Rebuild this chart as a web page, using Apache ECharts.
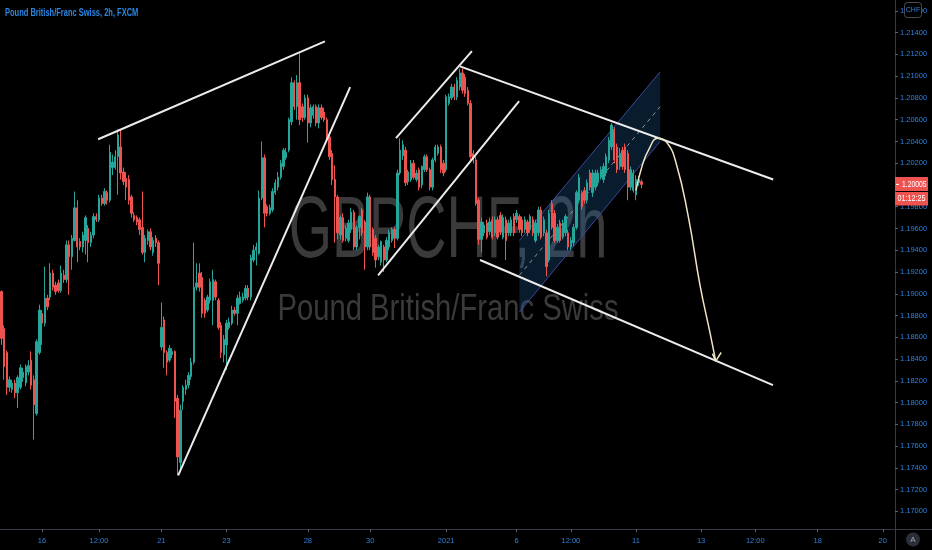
<!DOCTYPE html>
<html><head><meta charset="utf-8">
<script src="https://cdn.jsdelivr.net/npm/echarts@6/dist/echarts.min.js"></script>
<style>html,body{margin:0;padding:0;background:#000;}#c{width:932px;height:550px;}</style>
</head><body><div id="c"></div>
<script>
// ---------- data ----------
const xTickLabels = ['16','12:00','21','23','28','30','2021','6','12:00','11','13','12:00','18','20'];
const barsPerTickGap = [15,21,23,24,30,23,28,26,20,24,24,20,23,24,5];
const priceTicks = [1.170,1.172,1.174,1.176,1.178,1.180,1.182,1.184,1.186,1.188,1.190,1.192,1.194,1.196,1.198,1.200,1.202,1.204,1.206,1.208,1.210,1.212,1.214,1.216];

const opens = [
1.1902,1.1868,1.1846,1.1814,1.1812,1.1818,1.1809,1.1814,1.1823,1.1818,
1.1828,1.1839,1.1821,1.1790,1.1846,1.1882,1.1873,1.1896,1.1897,1.1919,
1.1908,1.1910,1.1903,1.1917,1.1913,1.1945,1.1934,1.1949,1.1979,1.1948,
1.1943,1.1949,1.1960,1.1947,1.1954,1.1971,1.1968,1.1988,1.1983,1.1993,
1.1986,1.2016,1.2016,1.2026,1.2035,1.2012,1.2006,1.2005,1.1989,1.1972,
1.1970,1.1968,1.1961,1.1938,1.1949,1.1957,1.1938,1.1951,1.1947,1.1851,
1.1876,1.1846,1.1839,1.1844,1.1847,1.1804,1.1745,1.1801,1.1812,1.1816,
1.1824,1.1837,1.1906,1.1919,1.1915,1.1894,1.1885,1.1894,1.1894,1.1911,
1.1894,1.1871,1.1844,1.1853,1.1869,1.1873,1.1885,1.1882,1.1891,1.1894,
1.1896,1.1905,1.1897,1.1931,1.1940,1.1937,1.1988,1.2025,1.1980,1.1974,
1.1977,1.1993,1.1998,1.2007,1.2017,1.2025,1.2032,1.2058,1.2094,1.2072,
1.2094,1.2072,1.2062,1.2080,1.2057,1.2064,1.2072,1.2057,1.2071,1.2067,
1.2060,1.2044,1.2029,1.2005,1.1989,1.1954,1.1970,1.1951,1.1949,1.1959,
1.1975,1.1943,1.1961,1.1977,1.1966,1.1943,1.1989,1.1959,1.1951,1.1934,
1.1929,1.1943,1.1931,1.1943,1.1949,1.1959,1.1951,1.2011,1.2027,1.2032,
1.2003,1.2005,1.2020,1.2005,1.2014,1.2000,1.2014,1.2026,1.2014,1.1998,
1.2023,1.2029,1.2035,1.2020,1.2014,1.2075,1.2080,1.2090,1.2081,1.2090,
1.2103,1.2099,1.2087,1.2075,1.2029,1.2023,1.1986,1.1950,1.1956,1.1965,
1.1957,1.1968,1.1956,1.1968,1.1972,1.1952,1.1968,1.1956,1.1956,1.1971,
1.1968,1.1971,1.1968,1.1959,1.1966,1.1959,1.1968,1.1949,1.1956,1.1977,
1.1956,1.1956,1.1931,1.1983,1.1974,1.1949,1.1965,1.1952,1.1956,1.1956,
1.1943,1.1947,1.1961,1.1986,1.1993,1.1995,1.1986,1.2011,1.1993,1.1998,
1.2002,1.2007,1.2005,1.2011,1.2023,1.2035,1.2051,1.2035,1.2017,1.2032,
1.2035,1.2029,1.1998,1.1995,1.1991,1.2002,1.2003];
const closes = [
1.1859,1.1833,1.1814,1.1821,1.1818,1.1809,1.1823,1.1832,1.1828,1.1833,
1.1834,1.1816,1.1798,1.1856,1.1885,1.1873,1.1896,1.1888,1.1919,1.1906,
1.1902,1.1903,1.1919,1.1913,1.1945,1.1934,1.1951,1.1979,1.1943,1.1943,
1.1954,1.1970,1.1947,1.1954,1.1971,1.1968,1.1988,1.1983,1.1994,1.1986,
1.2030,1.2021,1.2026,1.2046,1.2011,1.2003,1.1998,1.1986,1.1974,1.1968,
1.1966,1.1959,1.1938,1.1951,1.1957,1.1943,1.1949,1.1947,1.1928,1.1869,
1.1846,1.1837,1.1850,1.1847,1.1801,1.1750,1.1793,1.1814,1.1816,1.1825,
1.1837,1.1906,1.1910,1.1906,1.1882,1.1882,1.1897,1.1911,1.1913,1.1897,
1.1869,1.1846,1.1858,1.1873,1.1874,1.1885,1.1882,1.1896,1.1897,1.1897,
1.1905,1.1897,1.1933,1.1940,1.1943,1.1988,1.2025,1.1974,1.1974,1.1979,
1.1994,1.2002,1.2007,1.2020,1.2032,1.2030,1.2060,1.2094,1.2072,1.2094,
1.2060,1.2062,1.2080,1.2057,1.2071,1.2072,1.2057,1.2071,1.2062,1.2060,
1.2043,1.2026,1.2005,1.1989,1.1956,1.1970,1.1949,1.1960,1.1965,1.1975,
1.1943,1.1961,1.1971,1.1956,1.1943,1.1989,1.1943,1.1938,1.1931,1.1943,
1.1948,1.1931,1.1949,1.1956,1.1959,1.1951,1.2011,1.2032,1.2037,1.2002,
1.2012,1.2020,1.2007,1.2011,1.1998,1.2017,1.2026,1.2014,1.1998,1.2023,
1.2035,1.2035,1.2014,1.2011,1.2081,1.2081,1.2090,1.2081,1.2096,1.2103,
1.2087,1.2084,1.2075,1.2026,1.2023,1.1983,1.1950,1.1966,1.1963,1.1952,
1.1966,1.1952,1.1968,1.1952,1.1957,1.1970,1.1949,1.1965,1.1968,1.1956,
1.1974,1.1959,1.1956,1.1968,1.1956,1.1971,1.1956,1.1965,1.1977,1.1952,
1.1968,1.1925,1.1974,1.1961,1.1949,1.1961,1.1949,1.1965,1.1971,1.1943,
1.1949,1.1961,1.1993,1.2007,1.1980,1.1986,1.2002,1.1998,1.2011,1.2011,
1.2011,1.2014,1.2017,1.2026,1.2041,1.2055,1.2023,1.2014,1.2029,1.2017,
1.2014,1.1998,1.2014,1.2011,1.2005,1.2005,1.20005];
const lows = [
1.1853,1.1821,1.1807,1.1810,1.1809,1.1804,1.1795,1.1812,1.1819,1.1815,
1.1825,1.1812,1.1766,1.1788,1.1844,1.1853,1.1870,1.1885,1.1894,1.1903,
1.1899,1.1901,1.1901,1.1910,1.1910,1.1899,1.1922,1.1948,1.1929,1.1940,
1.1938,1.1936,1.1929,1.1943,1.1951,1.1966,1.1966,1.1981,1.1981,1.1982,
1.1984,1.2009,1.2014,1.1991,1.2005,1.2000,1.1986,1.1982,1.1970,1.1966,
1.1963,1.1954,1.1936,1.1929,1.1945,1.1940,1.1935,1.1943,1.1908,1.1848,
1.1832,1.1825,1.1837,1.1841,1.1786,1.1733,1.1736,1.1793,1.1807,1.1813,
1.1821,1.1835,1.1903,1.1902,1.1878,1.1878,1.1883,1.1891,1.1871,1.1894,
1.1867,1.1841,1.1837,1.1830,1.1867,1.1871,1.1880,1.1871,1.1890,1.1892,
1.1894,1.1894,1.1894,1.1929,1.1926,1.1936,1.1986,1.1961,1.1971,1.1972,
1.1975,1.1991,1.1995,1.2005,1.2014,1.2023,1.2030,1.2055,1.2069,1.2060,
1.2055,1.2058,1.2060,1.2039,1.2053,1.2061,1.2054,1.2052,1.2060,1.2058,
1.2041,1.2023,1.2000,1.1947,1.1950,1.1950,1.1947,1.1948,1.1947,1.1956,
1.1940,1.1940,1.1950,1.1953,1.1922,1.1940,1.1940,1.1935,1.1924,1.1931,
1.1926,1.1920,1.1929,1.1940,1.1947,1.1942,1.1949,1.2009,1.2023,1.1999,
1.2000,1.2003,1.2005,1.2003,1.1995,1.1997,1.2012,1.2012,1.1995,1.1995,
1.2021,1.2027,1.2011,1.2008,1.2012,1.2073,1.2078,1.2078,1.2078,1.2087,
1.2084,1.2081,1.2073,1.2023,1.2020,1.1981,1.1945,1.1938,1.1953,1.1950,
1.1954,1.1950,1.1953,1.1950,1.1954,1.1950,1.1931,1.1953,1.1953,1.1953,
1.1965,1.1956,1.1953,1.1956,1.1953,1.1956,1.1953,1.1947,1.1953,1.1950,
1.1953,1.1916,1.1929,1.1959,1.1947,1.1947,1.1947,1.1950,1.1953,1.1940,
1.1940,1.1944,1.1959,1.1983,1.1977,1.1983,1.1983,1.1995,1.1989,1.1995,
1.1999,1.2005,1.2002,1.2008,1.2020,1.2032,1.2020,1.2011,1.2014,1.2014,
1.2011,1.1986,1.1995,1.1993,1.1986,1.1999,1.1997];
const highs = [
1.1903,1.1871,1.1848,1.1824,1.1821,1.1821,1.1825,1.1835,1.1832,1.1835,
1.1839,1.1847,1.1825,1.1858,1.1890,1.1885,1.1925,1.1899,1.1928,1.1922,
1.1911,1.1913,1.1926,1.1922,1.1949,1.1949,1.1954,1.1994,1.1986,1.1951,
1.1957,1.1972,1.1963,1.1957,1.1974,1.1974,1.1991,1.1991,1.1997,1.1995,
1.2037,1.2028,1.2032,1.2051,1.2051,1.2016,1.2012,1.2009,1.1991,1.1975,
1.1972,1.1970,1.1994,1.1954,1.1959,1.1960,1.1952,1.1954,1.1949,1.1892,
1.1879,1.1848,1.1853,1.1850,1.1848,1.1807,1.1798,1.1816,1.1821,1.1828,
1.1841,1.1947,1.1928,1.1928,1.1920,1.1896,1.1899,1.1914,1.1922,1.1913,
1.1896,1.1874,1.1862,1.1876,1.1878,1.1889,1.1888,1.1899,1.1902,1.1901,
1.1908,1.1908,1.1936,1.1945,1.1947,1.1995,1.2040,1.2028,1.1982,1.1982,
1.1997,1.2005,1.2012,1.2023,1.2034,1.2034,1.2062,1.2099,1.2096,1.2101,
1.2121,1.2075,1.2083,1.2083,1.2074,1.2074,1.2074,1.2074,1.2074,1.2071,
1.2062,1.2046,1.2032,1.2018,1.1991,1.1972,1.1974,1.1963,1.1968,1.1979,
1.1977,1.1963,1.1972,1.1979,1.1968,1.1993,1.1991,1.1961,1.1954,1.1945,
1.1949,1.1945,1.1952,1.1959,1.1961,1.1961,1.2014,1.2043,1.2041,1.2035,
1.2014,1.2023,1.2023,1.2014,1.2016,1.2018,1.2028,1.2028,1.2016,1.2025,
1.2037,1.2037,1.2037,1.2023,1.2083,1.2084,1.2093,1.2093,1.2099,1.2107,
1.2107,1.2102,1.2090,1.2078,1.2032,1.2026,1.1988,1.1970,1.1966,1.1968,
1.1970,1.1971,1.1971,1.1971,1.1975,1.1973,1.1971,1.1968,1.1971,1.1974,
1.1977,1.1973,1.1971,1.1971,1.1968,1.1973,1.1971,1.1968,1.1980,1.1980,
1.1971,1.1959,1.1977,1.1986,1.1977,1.1964,1.1968,1.1968,1.1973,1.1959,
1.1952,1.1964,1.1995,1.2010,1.1995,1.1998,1.2005,1.2014,1.2014,1.2014,
1.2014,1.2017,1.2020,1.2029,1.2044,1.2057,1.2053,1.2038,1.2034,1.2035,
1.2038,1.2032,1.2017,1.2014,1.2009,1.2008,1.2005];

const lastPriceText = '1.20005';
const countdownText = '01:12:25';

// drawing anchors: [bar index, price]
const wedge1Top    = [[35.7, 1.2042], [119.3, 1.2132]];
const wedge1Bottom = [[65.2, 1.1733], [128.6, 1.2090]];
const wedge2Top    = [[145.5, 1.2043], [173.5, 1.2123]];
const wedge2Bottom = [[138.9, 1.1917], [190.9, 1.2077]];
const trendTop     = [[169.1, 1.2109], [284.6, 1.2005]];
const trendBottom  = [[176.5, 1.1931], [284.5, 1.1816]];
const channelUpper = [[191.0, 1.1949], [242.9, 1.2104]];
const channelLower = [[191.0, 1.1883], [242.9, 1.2040]];
const channelMid   = [[191.0, 1.1917], [242.9, 1.2072]];
const projection   = [[234.0, 1.1995], [236.2, 1.2017], [238.8, 1.2033], [242.1, 1.2043], [245.4, 1.2039],
                      [248.8, 1.2020], [253.2, 1.1972], [257.6, 1.1908], [261.3, 1.1864], [263.4, 1.1838]];
const arrowHeadLeft  = [[262.2, 1.1845], [263.4, 1.1838]];
const arrowHeadRight = [[265.4, 1.1846], [263.4, 1.1838]];

// ---------- build ----------
const totalBars = barsPerTickGap.reduce((a, b) => a + b, 0);
const categories = [];
const tickAt = {};
let pos = 0;
barsPerTickGap.forEach((n, g) => {
  if (g > 0) tickAt[pos] = xTickLabels[g - 1];
  for (let k = 0; k < n; k++) { categories.push(String(pos)); pos++; }
});
const candleData = opens.map((o, i) => [o, closes[i], lows[i], highs[i]]);

const FONT = '"Liberation Sans", Arial, sans-serif';
const BLUE = '#2d80dc';
const AXIS = '#363a45';
const yMin = 1.16838, yMax = 1.2170;

function seg(data, color, width, extra) {
  return Object.assign({
    type: 'line', xAxisIndex: 1, yAxisIndex: 0, data: data, symbol: 'none', silent: true,
    lineStyle: { color: color, width: width }, z: 5, animation: false
  }, extra || {});
}

const chart = echarts.init(document.getElementById('c'), null, { renderer: 'canvas' });
chart.setOption({
  backgroundColor: '#000000',
  animation: false,
  grid: { left: 0, right: 37, top: 0, bottom: 21, containLabel: false },
  xAxis: [{
    type: 'category', data: categories, boundaryGap: true,
    axisLine: { show: true, onZero: false, lineStyle: { color: AXIS } },
    axisTick: { show: true, length: 3, alignWithLabel: true, interval: (i) => tickAt[i] !== undefined, lineStyle: { color: '#5d606b' } },
    axisLabel: { interval: (i) => tickAt[i] !== undefined, formatter: (v, i) => tickAt[i] || '', color: BLUE, fontSize: 7.5, fontFamily: FONT, margin: 8 },
    splitLine: { show: false }
  }, {
    type: 'value', min: -0.5, max: totalBars - 0.5, show: false,
    axisLine: { show: false, onZero: false }
  }],
  yAxis: [{
    type: 'value', position: 'right', min: yMin, max: yMax, scale: true,
    axisLine: { show: true, onZero: false, lineStyle: { color: AXIS } },
    axisTick: { show: true, length: 3, customValues: priceTicks, lineStyle: { color: '#5d606b' } },
    axisLabel: { customValues: priceTicks, formatter: (v) => v.toFixed(5), color: BLUE, fontSize: 7.5, fontFamily: FONT, margin: 5 },
    splitLine: { show: false }
  }],
  series: [
    {
      type: 'custom', xAxisIndex: 1, yAxisIndex: 0, z: 1, silent: true,
      data: [[channelUpper[0][0], channelUpper[0][1]]],
      renderItem: function (params, api) {
        const pts = [api.coord(channelUpper[0]), api.coord(channelUpper[1]), api.coord(channelLower[1]), api.coord(channelLower[0])];
        return { type: 'polygon', shape: { points: pts }, style: { fill: 'rgba(30,110,175,0.26)' } };
      }
    },
    {
      type: 'candlestick', xAxisIndex: 0, yAxisIndex: 0, data: candleData, z: 3,
      barWidth: 1.9,
      itemStyle: { color: '#26a69a', color0: '#ef5350', borderColor: '#26a69a', borderColor0: '#ef5350', borderWidth: 1 }
    },
    seg(channelUpper, '#3e469c', 1, { z: 2 }),
    seg(channelLower, '#3e469c', 1, { z: 2 }),
    seg(channelMid, '#8c909a', 1, { z: 2, lineStyle: { color: '#8c909a', width: 1, type: [4, 4] } }),
    seg(wedge1Top, '#ececec', 2),
    seg(wedge1Bottom, '#ececec', 2),
    seg(wedge2Top, '#ececec', 2),
    seg(wedge2Bottom, '#ececec', 2),
    seg(trendTop, '#ececec', 2),
    seg(trendBottom, '#ececec', 2),
    seg(projection, '#efe4c6', 1.5, { smooth: 0.5 }),
    seg(arrowHeadLeft, '#efe4c6', 1.5),
    seg(arrowHeadRight, '#efe4c6', 1.5)
  ],
  graphic: [
    { type: 'text', x: 448, y: 277, scaleX: 0.64, z: 0, silent: true,
      style: { text: 'GBPCHF, 2h', font: '87px "Liberation Sans", Arial, sans-serif', fill: '#3a3a3a', textAlign: 'center', textVerticalAlign: 'bottom' } },
    { type: 'text', x: 448, y: 328, scaleX: 0.79, z: 0, silent: true,
      style: { text: 'Pound British/Franc Swiss', font: '37px "Liberation Sans", Arial, sans-serif', fill: '#3a3a3a', textAlign: 'center', textVerticalAlign: 'bottom' } },
    { type: 'text', x: 5, y: 13, scaleX: 0.75, z: 50, silent: true,
      style: { text: 'Pound British/Franc Swiss, 2h, FXCM', font: 'bold 10px ' + FONT, fill: '#2b86e0', textAlign: 'left', textVerticalAlign: 'middle' } },
    { type: 'line', z: 50, silent: true, shape: { x1: 895.5, y1: 529, x2: 895.5, y2: 550 }, style: { stroke: AXIS, lineWidth: 1 } },
    { type: 'line', z: 50, silent: true, shape: { x1: 895, y1: 529.5, x2: 932, y2: 529.5 }, style: { stroke: AXIS, lineWidth: 1 } },
    { type: 'rect', z: 50, silent: true, shape: { x: 904.5, y: 2.5, width: 17, height: 15, r: 3 }, style: { fill: '#000', stroke: '#4a4d57', lineWidth: 1 } },
    { type: 'text', x: 913, y: 10.5, z: 51, silent: true, style: { text: 'CHF', font: '7px ' + FONT, fill: BLUE, textAlign: 'center', textVerticalAlign: 'middle' } },
    { type: 'circle', z: 50, silent: true, shape: { cx: 913, cy: 539.5, r: 7 }, style: { fill: '#2a2e39' } },
    { type: 'text', x: 913, y: 540, z: 51, silent: true, style: { text: 'A', font: '8px ' + FONT, fill: '#a0a3ab', textAlign: 'center', textVerticalAlign: 'middle' } }
  ]
});

// last price tag placed via the axis scale
const lastY = chart.convertToPixel({ yAxisIndex: 0 }, closes[closes.length - 1]);
chart.setOption({
  graphic: [
    { type: 'rect', id: 'pbox', z: 60, silent: true, shape: { x: 895, y: lastY - 7.5, width: 33, height: 14 }, style: { fill: '#ef5350' } },
    { type: 'line', id: 'ptick', z: 61, silent: true, shape: { x1: 896, y1: lastY, x2: 899, y2: lastY }, style: { stroke: '#ffffff', lineWidth: 1 } },
    { type: 'text', id: 'ptext', x: 902, y: lastY, scaleX: 0.75, z: 61, silent: true, style: { text: lastPriceText, font: '9px ' + FONT, fill: '#ffffff', textAlign: 'left', textVerticalAlign: 'middle' } },
    { type: 'rect', id: 'tbox', z: 60, silent: true, shape: { x: 895, y: lastY + 7.5, width: 33, height: 13.5 }, style: { fill: '#ef5350' } },
    { type: 'text', id: 'ttext', x: 897.5, y: lastY + 14.5, scaleX: 0.8, z: 61, silent: true, style: { text: countdownText, font: '9px ' + FONT, fill: '#ffffff', textAlign: 'left', textVerticalAlign: 'middle' } }
  ]
});
</script>
</body></html>
